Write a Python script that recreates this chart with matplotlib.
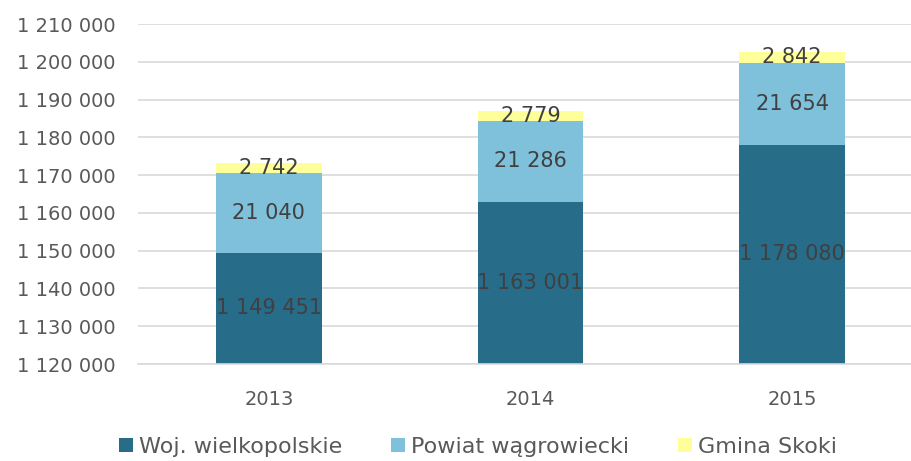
import matplotlib.pyplot as plt
import numpy as np

years = ['2013', '2014', '2015']
woj = [1149451, 1163001, 1178080]
powiat = [21040, 21286, 21654]
gmina = [2742, 2779, 2842]
series_names = ['Woj. wielkopolskie', 'Powiat wągrowiecki', 'Gmina Skoki']
colors = ['#276C89', '#7FC0DB', '#FFFF99']

ymin, ymax = 1120000, 1210000

def fmt(v):
    return '{:,}'.format(int(v)).replace(',', ' ')

plt.rcParams['font.family'] = ['DejaVu Sans']
fig = plt.figure(figsize=(9.11, 4.61), dpi=100)
ax = fig.add_axes([138 / 911, 1 - 364 / 461, 1 - 138 / 911, (364 - 24) / 461])

x = np.arange(len(years))
w = 0.405
b1 = ax.bar(x, woj, w, color=colors[0], label=series_names[0], zorder=2)
b2 = ax.bar(x, powiat, w, bottom=woj, color=colors[1], label=series_names[1], zorder=2)
bottom3 = np.array(woj) + np.array(powiat)
b3 = ax.bar(x, gmina, w, bottom=bottom3, color=colors[2], label=series_names[2], zorder=2)

txt = '#404040'
for i in range(len(years)):
    # label at centre of the visible part of each segment
    ax.text(x[i], (ymin + woj[i]) / 2, fmt(woj[i]), ha='center', va='center', fontsize=15, color=txt, zorder=3)
    ax.text(x[i], woj[i] + powiat[i] / 2, fmt(powiat[i]), ha='center', va='center', fontsize=15, color=txt, zorder=3)
    ax.text(x[i], bottom3[i] + gmina[i] / 2, fmt(gmina[i]), ha='center', va='center', fontsize=15, color=txt, zorder=3)

ax.set_ylim(ymin, ymax)
ax.set_xlim(-0.5, 2 + (911 - 792) / 262)
ax.set_yticks(np.arange(ymin, ymax + 1, 10000))
ax.set_yticklabels([fmt(v) for v in np.arange(ymin, ymax + 1, 10000)])
ax.set_xticks(x)
ax.set_xticklabels(years)
ax.tick_params(axis='both', length=0, labelsize=14, labelcolor='#595959')
ax.tick_params(axis='y', pad=16)
ax.tick_params(axis='x', pad=19)
ax.grid(axis='y', color='#D9D9D9', linewidth=1.2, zorder=0)
for s in ['top', 'right', 'left']:
    ax.spines[s].set_visible(False)
ax.spines['bottom'].set_color('#D9D9D9')
ax.spines['bottom'].set_linewidth(1.2)

fig.legend(handles=[b1, b2, b3], loc='center', bbox_to_anchor=(0.525, 1 - 447 / 461), ncol=3,
           frameon=False, fontsize=16, handlelength=0.6, handleheight=0.6, handletextpad=0.3,
           columnspacing=2.2, labelcolor='#595959')

fig.savefig('out.png', dpi=100)
